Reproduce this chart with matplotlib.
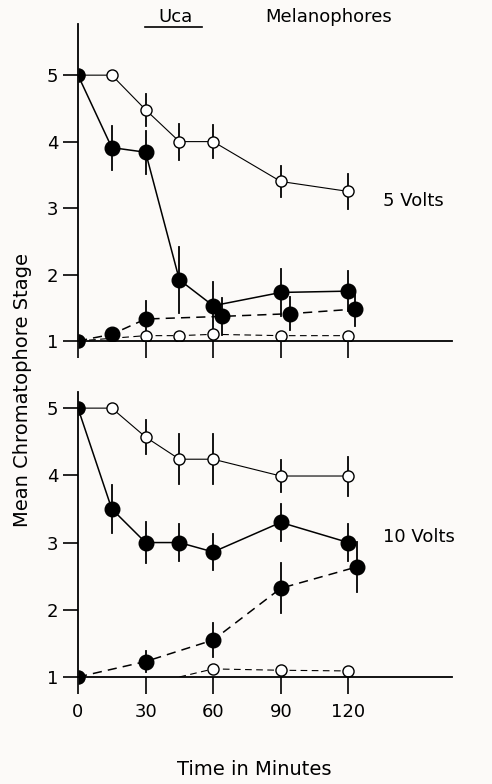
import matplotlib
matplotlib.use("Agg")
import matplotlib.pyplot as plt
from matplotlib.lines import Line2D

# 5 volts panel
t5_open = [0, 15, 30, 45, 60, 90, 120]
y5_open = [5, 5, 4.48, 4.0, 4.0, 3.4, 3.25]
e5_open = [0, 0, 0.24, 0.27, 0.25, 0.24, 0.26]

t5_fill = [0, 15, 30, 45, 60, 90, 120]
y5_fill = [5, 3.91, 3.84, 1.92, 1.53, 1.73, 1.75]
e5_fill = [0, 0.33, 0.32, 0.5, 0.35, 0.35, 0.3]

t5_fill_d = [0, 15, 30, 64, 94, 123]
y5_fill_d = [1, 1.1, 1.33, 1.37, 1.41, 1.48]
e5_fill_d = [0, 0, 0.27, 0.28, 0.25, 0.25]

t5_open_d = [0, 30, 45, 60, 90, 120]
y5_open_d = [1, 1.08, 1.08, 1.1, 1.08, 1.08]

# 10 volts panel
t10_open = [0, 15, 30, 45, 60, 90, 120]
y10_open = [5, 5, 4.57, 4.24, 4.24, 3.99, 3.99]
e10_open = [0, 0, 0.25, 0.37, 0.37, 0.24, 0.29]

t10_fill = [0, 15, 30, 45, 60, 90, 120]
y10_fill = [5, 3.5, 3.0, 3.0, 2.86, 3.3, 3.0]
e10_fill = [0, 0.36, 0.3, 0.28, 0.27, 0.28, 0.27]

t10_fill_d = [0, 30, 60, 90, 124]
y10_fill_d = [1, 1.23, 1.55, 2.32, 2.64]
e10_fill_d = [0, 0.15, 0.26, 0.37, 0.37]

t10_open_d = [45, 60, 90, 120]
y10_open_d = [1.0, 1.12, 1.1, 1.09]

xticks = [0, 30, 60, 90, 120]
yticks = [1, 2, 3, 4, 5]

bg = "#fcfaf8"
fig = plt.figure(figsize=(4.92, 7.84), dpi=100, facecolor=bg)
ax1 = fig.add_axes([0.1585, 0.5651, 0.7602, 0.4043])
ax2 = fig.add_axes([0.1585, 0.1365, 0.7602, 0.3635])


def series(ax, x, y, err, filled, dashed, markevery=None):
    ls = (0, (6, 4)) if dashed else "-"
    lw = 1.1 if filled else 0.8
    ms = 10.5 if filled else 8
    if err is not None:
        for xi, yi, ei in zip(x, y, err):
            if ei > 0:
                ax.plot([xi, xi], [yi - ei, yi + ei], color="black", lw=1.3, zorder=3)
    if markevery is None:
        # points sitting on the y axis are cut in half by it in the original
        markevery = [i for i in range(len(x)) if x[i] > 0]
    ax.plot(x, y, color="black", lw=lw, ls=ls, marker="o", ms=ms,
            mfc="black" if filled else "white", mec="black", mew=1.0,
            markevery=markevery, zorder=4 if filled else 3.5)
    if filled and x[0] == 0:
        ax.plot(x[0], y[0], ls="none", marker="o", ms=ms, fillstyle="right",
                mfc="black", mfcalt="none", mec="none", zorder=4, clip_on=False)


for ax in (ax1, ax2):
    ax.set_facecolor(bg)
    for s in ("top", "right"):
        ax.spines[s].set_visible(False)
    ax.spines["left"].set_linewidth(1.3)
    ax.spines["bottom"].set_linewidth(1.3)
    ax.spines["left"].set_zorder(5)
    ax.spines["bottom"].set_zorder(5)
    ax.set_xlim(0, 166)
    ax.set_xticks(xticks)
    ax.set_yticks(yticks)
    ax.tick_params(axis="y", direction="out", length=11, width=1.2, pad=3, labelsize=13)
    ax.tick_params(axis="x", direction="out", length=12, width=1.2, pad=7, labelsize=13)

ax1.set_ylim(1, 5.77)
ax2.set_ylim(1, 5.24)
ax1.tick_params(axis="x", labelbottom=False)

series(ax1, t5_open, y5_open, e5_open, False, False)
series(ax1, t5_open_d, y5_open_d, None, False, True)
series(ax1, t5_fill_d, y5_fill_d, e5_fill_d, True, True)
series(ax1, t5_fill, y5_fill, e5_fill, True, False)

series(ax2, t10_open, y10_open, e10_open, False, False)
series(ax2, t10_open_d, y10_open_d, None, False, True, markevery=[1, 2, 3])
series(ax2, t10_fill_d, y10_fill_d, e10_fill_d, True, True)
series(ax2, t10_fill, y10_fill, e10_fill, True, False)

fig.text(0.356, 0.978, "Uca", ha="center", va="center", fontsize=13)
fig.text(0.668, 0.978, "Melanophores", ha="center", va="center", fontsize=13)
fig.add_artist(Line2D([0.295, 0.41], [0.9656, 0.9656], color="black", lw=1.2))

fig.text(0.778, 0.744, "5 Volts", ha="left", va="center", fontsize=13)
fig.text(0.778, 0.315, "10 Volts", ha="left", va="center", fontsize=13)
fig.text(0.045, 0.503, "Mean Chromatophore Stage", rotation=90,
         ha="center", va="center", fontsize=14)
fig.text(0.516, 0.018, "Time in Minutes", ha="center", va="center", fontsize=14)

plt.savefig("out.png", dpi=100, facecolor=bg)
plt.close()
